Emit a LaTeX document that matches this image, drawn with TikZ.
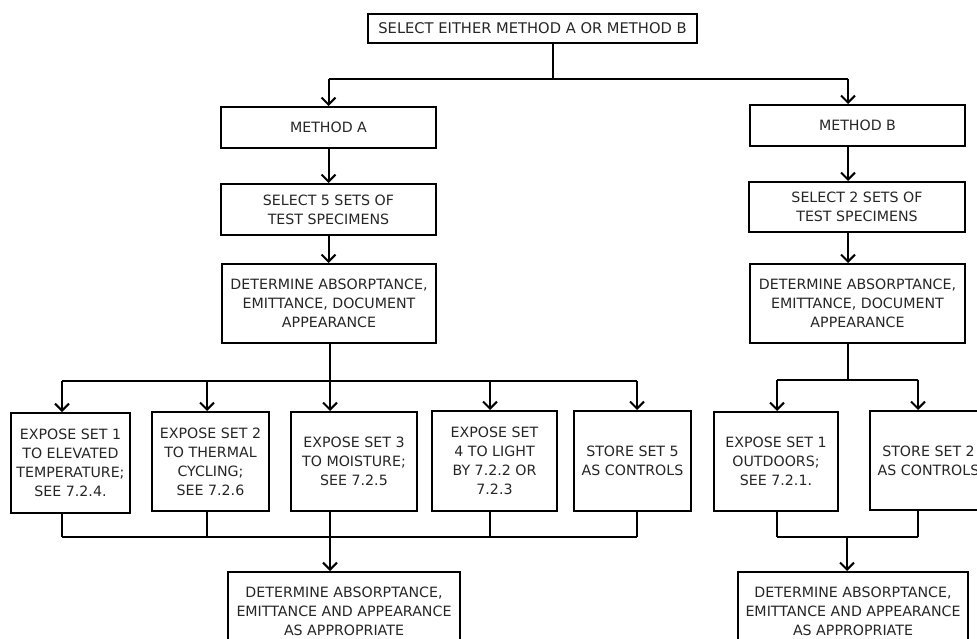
\documentclass[tikz,border=0pt]{standalone}
\usepackage{fontspec}
\setmainfont{DejaVu Sans}
\usetikzlibrary{arrows.meta}
\begin{document}
\begin{tikzpicture}[x=1pt,y=-1pt,
  box/.style={draw, line width=2pt, inner sep=0pt, align=center, text=black!85,
    font=\fontsize{14.2}{19}\selectfont},
  conn/.style={line width=2pt},
  arr/.style={line width=2pt, -{Straight Barb[length=7pt,width=14pt,line width=2pt]}}]
\useasboundingbox (0,0) rectangle (977,639);
% nodes
\node[box, minimum width=329pt, minimum height=29pt, font=\fontsize{14.7}{19}\selectfont] (top) at (532.5,28.5) {SELECT EITHER METHOD A OR METHOD B};
\node[box, minimum width=215pt, minimum height=41pt] (ma) at (328.5,127.5) {METHOD A};
\node[box, minimum width=215pt, minimum height=41pt] (mb) at (857.5,125.5) {METHOD B};
\node[box, minimum width=215pt, minimum height=51pt] (s5) at (328.5,209.5) {SELECT 5 SETS OF\\TEST SPECIMENS};
\node[box, minimum width=216pt, minimum height=50pt] (s2) at (857,207) {SELECT 2 SETS OF\\TEST SPECIMENS};
\node[box, minimum width=214pt, minimum height=79pt] (da) at (329,303.5) {DETERMINE ABSORPTANCE,\\EMITTANCE, DOCUMENT\\APPEARANCE};
\node[box, minimum width=215pt, minimum height=79pt] (db) at (857.5,303.5) {DETERMINE ABSORPTANCE,\\EMITTANCE, DOCUMENT\\APPEARANCE};
\node[box, minimum width=119pt, minimum height=100pt] (e1) at (70.5,463) {EXPOSE SET 1\\TO ELEVATED\\TEMPERATURE;\\SEE 7.2.4.};
\node[box, minimum width=117pt, minimum height=99pt] (e2) at (210.5,461.5) {EXPOSE SET 2\\TO THERMAL\\CYCLING;\\SEE 7.2.6};
\node[box, minimum width=126pt, minimum height=99pt] (e3) at (354,461.5) {EXPOSE SET 3\\TO MOISTURE;\\SEE 7.2.5};
\node[box, minimum width=125pt, minimum height=100pt] (e4) at (494.5,461) {EXPOSE SET\\4 TO LIGHT\\BY 7.2.2 OR\\7.2.3};
\node[box, minimum width=117pt, minimum height=100pt] (e5) at (632.5,461) {STORE SET 5\\AS CONTROLS};
\node[box, minimum width=124pt, minimum height=99pt] (be1) at (776,461.5) {EXPOSE SET 1\\OUTDOORS;\\SEE 7.2.1.};
\node[box, minimum width=117pt, minimum height=99pt] (be2) at (928.5,460.5) {STORE SET 2\\AS CONTROLS};
\node[box, minimum width=232pt, minimum height=78pt] (fa) at (344,611) {DETERMINE ABSORPTANCE,\\EMITTANCE AND APPEARANCE\\AS APPROPRIATE};
\node[box, minimum width=230pt, minimum height=78pt] (fb) at (853,611) {DETERMINE ABSORPTANCE,\\EMITTANCE AND APPEARANCE\\AS APPROPRIATE};
% junction coordinates
\coordinate (j0) at (553,79);
\coordinate (ja) at (328.5,79);
\coordinate (jb) at (848,79);
\coordinate (h1) at (62,381);
\coordinate (h2) at (207,381);
\coordinate (h3) at (330,381);
\coordinate (h4) at (490,381);
\coordinate (h5) at (637,381);
\coordinate (b1) at (62,537);
\coordinate (b2) at (207,537);
\coordinate (b3) at (330,537);
\coordinate (b4) at (490,537);
\coordinate (b5) at (637,537);
\coordinate (hb0) at (848,380);
\coordinate (hb1) at (777,380);
\coordinate (hb2) at (918,380);
\coordinate (bb1) at (777,537);
\coordinate (bb2) at (918,537);
\coordinate (bb0) at (847,537);
% top split
\draw[conn] (top.south -| j0) -- (j0);
\draw[conn] (ja) -- (jb);
\draw[arr] (ja) -- (ma.north);
\draw[arr] (jb) -- (mb.north -| jb);
% method A column
\draw[arr] (ma.south) -- (s5.north -| ma.south);
\draw[arr] (s5.south) -- (da.north -| s5.south);
\draw[conn] (da.south -| h3) -- (h3);
\draw[conn] (h1) -- (h5);
\draw[arr] (h1) -- (e1.north -| h1);
\draw[arr] (h2) -- (e2.north -| h2);
\draw[arr] (h3) -- (e3.north -| h3);
\draw[arr] (h4) -- (e4.north -| h4);
\draw[arr] (h5) -- (e5.north -| h5);
\draw[conn] (e1.south -| b1) -- (b1);
\draw[conn] (e2.south -| b2) -- (b2);
\draw[conn] (e3.south -| b3) -- (b3);
\draw[conn] (e4.south -| b4) -- (b4);
\draw[conn] (e5.south -| b5) -- (b5);
\draw[conn] (b1) -- (b5);
\draw[arr] (b3) -- (fa.north -| b3);
% method B column
\draw[arr] (mb.south -| jb) -- (s2.north -| jb);
\draw[arr] (s2.south -| jb) -- (db.north -| jb);
\draw[conn] (db.south -| hb0) -- (hb0);
\draw[conn] (hb1) -- (hb2);
\draw[arr] (hb1) -- (be1.north -| hb1);
\draw[arr] (hb2) -- (be2.north -| hb2);
\draw[conn] (be1.south -| bb1) -- (bb1);
\draw[conn] (be2.south -| bb2) -- (bb2);
\draw[conn] (bb1) -- (bb2);
\draw[arr] (bb0) -- (fb.north -| bb0);
\end{tikzpicture}
\end{document}
